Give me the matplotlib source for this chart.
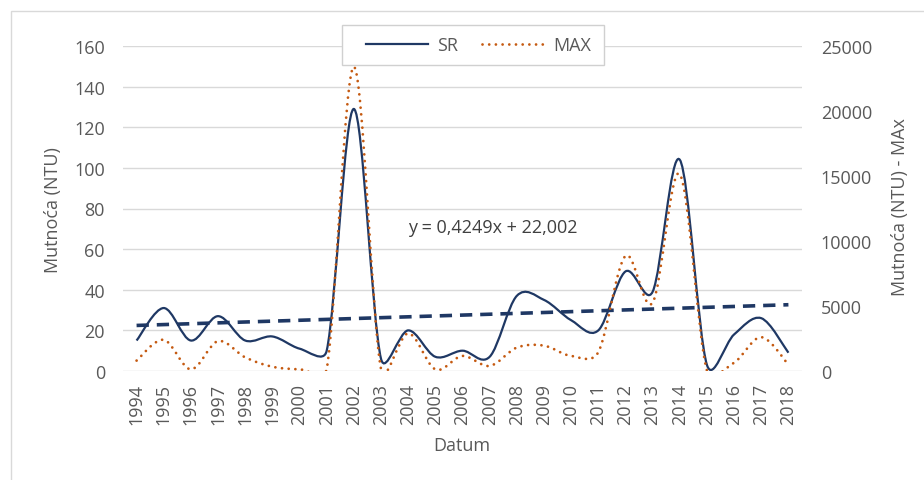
import numpy as np
import matplotlib
matplotlib.use("Agg")
import matplotlib.pyplot as plt
from matplotlib.path import Path
from matplotlib.patches import PathPatch, Rectangle
from matplotlib.lines import Line2D

plt.rcParams['font.family'] = ['Open Sans', 'DejaVu Sans']

# podaci
godine = [str(g) for g in range(1994, 2019)]
sr = [15, 31, 15, 27, 15, 17, 11, 10, 129, 6, 20, 7, 10, 7, 37, 35,
      25, 20, 49, 39, 104, 3, 18, 26, 9]
maks = [800, 2400, 130, 2300, 1050, 330, 130, 150, 23400, 150, 2900, 130,
        1160, 390, 1800, 1950, 1160, 1450, 8850, 5250, 15150, 30, 640,
        2600, 490]
trend_k = 0.4249
trend_n = 22.002
lijevi_ticks = [0, 20, 40, 60, 80, 100, 120, 140, 160]
desni_ticks = [0, 5000, 10000, 15000, 20000, 25000]

navy = '#1f3864'
narancasta = '#c55a11'
siva = '#595959'
fs = 13


def smooth_path(ax, x, y):
    # Excel "smoothed line": bezier kroz tocke, racunato u pikselima,
    # kontrolne tocke ogranicene na pola duljine segmenta
    p = ax.transData.transform(np.column_stack([x, y]))
    n = len(p)
    verts = [p[0]]
    codes = [Path.MOVETO]
    for i in range(n - 1):
        p0 = p[i - 1] if i > 0 else p[i]
        p1 = p[i]
        p2 = p[i + 1]
        p3 = p[i + 2] if i + 2 < n else p[i + 1]
        d12 = np.hypot(*(p2 - p1))
        d02 = np.hypot(*(p2 - p0))
        d13 = np.hypot(*(p3 - p1))
        f0 = 1 / 6 if d02 / 6 < d12 / 2 else d12 / (2 * d02)
        f3 = 1 / 6 if d13 / 6 < d12 / 2 else d12 / (2 * d13)
        verts += [p1 + f0 * (p2 - p0), p2 - f3 * (p3 - p1), p2]
        codes += [Path.CURVE4] * 3
    verts = ax.transData.inverted().transform(np.array(verts))
    return Path(verts, codes)


x = np.arange(len(godine))

fig = plt.figure(figsize=(9.24, 4.81), dpi=100)
ax = fig.add_axes([123 / 924, 109 / 481, 679 / 924, 325 / 481])
ax2 = ax.twinx()

ax.set_xlim(-0.5, len(godine) - 0.5)
ax.set_ylim(0, 160)
ax2.set_ylim(0, 25000)

ax.grid(axis='y', color='#d9d9d9', lw=1)
ax.set_axisbelow(True)
for a in (ax, ax2):
    for s in a.spines.values():
        s.set_visible(False)

sr_patch = PathPatch(smooth_path(ax, x, sr), fill=False, edgecolor=navy, lw=1.6)
ax.add_patch(sr_patch)

# linearni trend
tx = np.array([x[0], x[-1]])
ax.plot(tx, trend_k * (tx + 1) + trend_n, color=navy, lw=2.6,
        linestyle=(0, (3.4, 2.2)), dash_capstyle='butt')

max_patch = PathPatch(smooth_path(ax2, x, maks), fill=False, edgecolor=narancasta,
                      lw=2.0, linestyle=(0, (0.01, 2.4)), capstyle='round')
ax2.add_patch(max_patch)

ax.set_xticks(x)
ax.set_xticklabels(godine, rotation=90)
ax.set_yticks(lijevi_ticks)
ax2.set_yticks(desni_ticks)
ax.tick_params(axis='x', length=0, pad=8.6, labelsize=fs, labelcolor=siva)
ax.tick_params(axis='y', length=0, pad=13, labelsize=fs, labelcolor=siva)
ax2.tick_params(axis='y', length=0, pad=13.5, labelsize=fs, labelcolor=siva)

ax.set_xlabel('Datum', fontsize=fs, color=siva, va='center')
ax.xaxis.set_label_coords((462 - 123) / 679, (372 - 446) / 325)
ax.set_ylabel('Mutnoća (NTU)', fontsize=fs, color=siva, va='center')
ax.yaxis.set_label_coords((53 - 123) / 679, (372 - 210) / 325)
ax2.set_ylabel('Mutnoća (NTU) - MAx', fontsize=fs, color=siva, va='center')
ax2.yaxis.set_label_coords((900 - 123) / 679, (372 - 207) / 325)

ax.text(10, 71, 'y = 0,4249x + 22,002', fontsize=fs, color='#404040',
        va='center', ha='left')

# legenda
okvir = Rectangle((342 / 924, 1 - 66 / 481), 262 / 924, 40 / 481,
                  transform=fig.transFigure, facecolor='white',
                  edgecolor='#d0d0d0', lw=1, zorder=4.5)
ax2.add_artist(okvir)
okvir.set_clip_on(False)
handles = [Line2D([], [], color=navy, lw=1.6),
           Line2D([], [], color=narancasta, lw=2.0,
                  linestyle=(0, (0.01, 2.4)), dash_capstyle='round')]
leg = ax2.legend(handles, ['SR', 'MAX'], ncol=2, frameon=False,
                 loc='center left', bbox_to_anchor=(357 / 924, 1 - 46 / 481),
                 bbox_transform=fig.transFigure, borderpad=0,
                 handlelength=3.45, handletextpad=0.5, columnspacing=1.3,
                 fontsize=fs, labelcolor=siva)
leg.set_zorder(6)

# okvir grafikona
fig.patches.append(Rectangle((11 / 924, -0.1), 1.0, (481 - 12) / 481 + 0.1,
                             transform=fig.transFigure, fill=False,
                             edgecolor='#d9d9d9', lw=1))

fig.savefig('out.png', dpi=100)
